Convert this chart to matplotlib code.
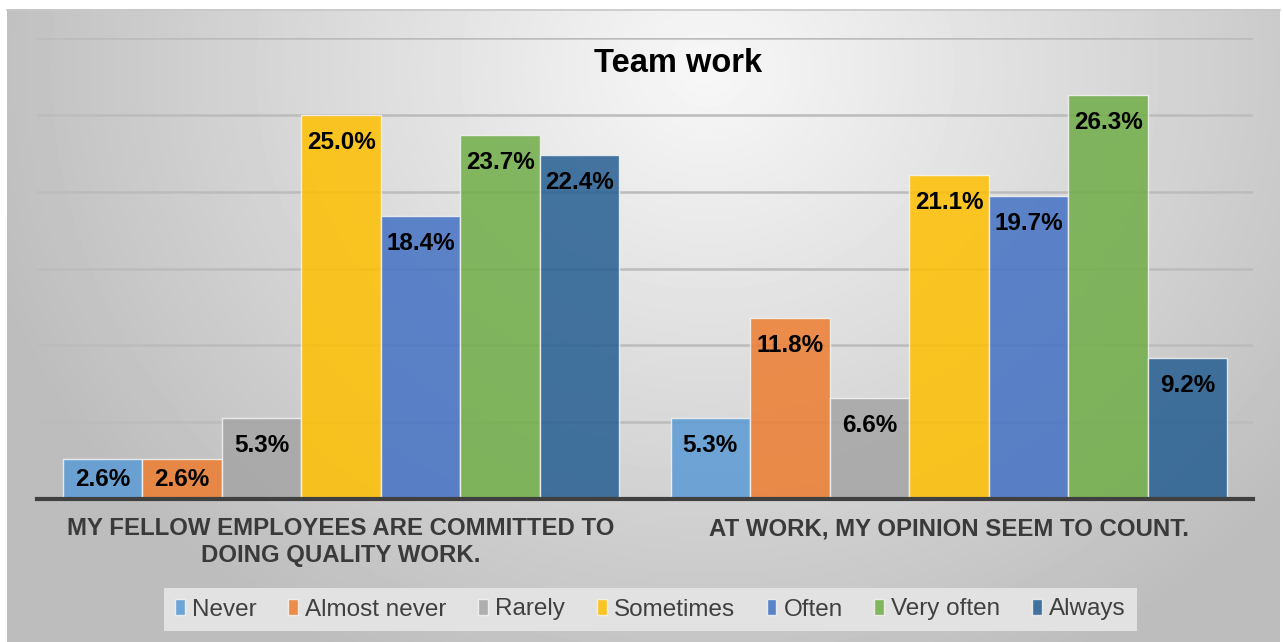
import matplotlib
matplotlib.use("Agg")
import matplotlib.pyplot as plt
import numpy as np

plt.rcParams['font.family'] = ['Liberation Sans', 'DejaVu Sans']

categories = ["MY FELLOW EMPLOYEES ARE COMMITTED TO\nDOING QUALITY WORK.",
              "AT WORK, MY OPINION SEEM TO COUNT."]
responses = ["Never", "Almost never", "Rarely", "Sometimes", "Often", "Very often", "Always"]
colors = ["#5B9BD5", "#ED7D31", "#A5A5A5", "#FFC000", "#4472C4", "#70AD47", "#255E91"]

# percentages per response, one value per statement
never = [2.6, 5.3]
almost_never = [2.6, 11.8]
rarely = [5.3, 6.6]
sometimes = [25.0, 21.1]
often = [18.4, 19.7]
very_often = [23.7, 26.3]
always = [22.4, 9.2]
series = [never, almost_never, rarely, sometimes, often, very_often, always]

W, H = 1283, 642
fig = plt.figure(figsize=(W / 100, H / 100), dpi=100)
fig.patch.set_facecolor("white")

# radial grey background of the chart area
bg = fig.add_axes([7 / W, 0, (1280 - 7) / W, (H - 9) / H], zorder=0)
yy, xx = np.mgrid[0:633, 0:1273]
r = np.sqrt(((xx - 700) / 720.0) ** 2 + ((yy - 60) / 640.0) ** 2)
shade = np.clip(0.97 - 0.22 * r, 0.74, 1.0)
bg.imshow(shade, cmap="gray", vmin=0, vmax=1, aspect="auto", interpolation="bilinear")
bg.axis("off")
fig.add_artist(plt.Line2D([7 / W, 1280 / W], [1 - 9.5 / H, 1 - 9.5 / H], color="#c8c8c8", lw=1.2))

ax = fig.add_axes([37 / W, 1 - 499 / H, (1253 - 37) / W, (499 - 38) / H], zorder=1)
ax.patch.set_alpha(0)

n = len(series)
width = 0.916 / n
x = np.arange(len(categories))
for j, (vals, c, name) in enumerate(zip(series, colors, responses)):
    pos = x + (j - (n - 1) / 2) * width
    ax.bar(pos, vals, width, color=c, alpha=0.85, edgecolor="#f4f4f4", linewidth=1,
           label=name, zorder=3)
    for px, v in zip(pos, vals):
        ax.text(px, max(v - 1.8, v / 2), f"{v:.1f}%", ha="center", va="center",
                fontsize=17.5, fontweight="bold", color="black", zorder=4)

ax.set_xlim(-0.5, 1.5)
ax.set_ylim(0, 30)
ax.set_yticks(np.arange(5, 31, 5))
ax.yaxis.grid(True, color="#bcbcbc", linewidth=1.8, zorder=1)
ax.set_axisbelow(True)
ax.tick_params(axis="y", left=False, labelleft=False)
ax.tick_params(axis="x", length=0, pad=13)
ax.set_xticks(x)
ax.set_xticklabels(categories, fontsize=17.3, fontweight="bold", color="#3a3a3a")
for s in ["top", "right", "left"]:
    ax.spines[s].set_visible(False)
ax.spines["bottom"].set_color("#404040")
ax.spines["bottom"].set_linewidth(3)
ax.spines["bottom"].set_zorder(5)

fig.text(678 / W, 1 - 63 / H, "Team work", ha="center", va="center",
         fontsize=23.5, fontweight="bold", color="black")

leg = fig.legend(loc="center", bbox_to_anchor=(650.5 / W, 1 - 609.5 / H), ncol=n,
                 fontsize=17.5, frameon=True, fancybox=False, handlelength=0.4,
                 handleheight=0.6, handletextpad=0.3, columnspacing=1.3,
                 borderpad=0.45, labelcolor="#404040")
leg.get_frame().set_facecolor("#e2e2e2")
leg.get_frame().set_edgecolor("none")
leg.get_frame().set_alpha(1)

fig.savefig("out.png", dpi=100)
